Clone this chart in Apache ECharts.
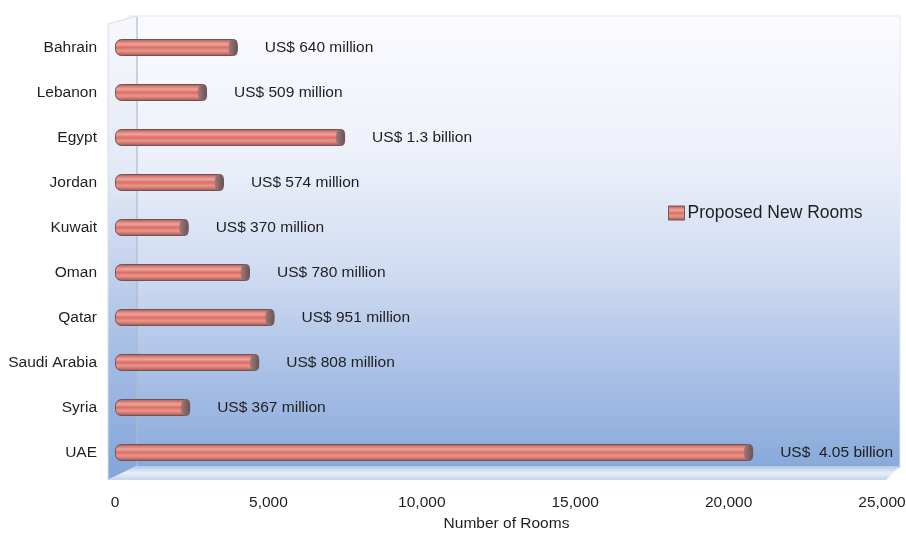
<!DOCTYPE html>
<html>
<head>
<meta charset="utf-8">
<script src="https://cdn.jsdelivr.net/npm/echarts@6/dist/echarts.min.js"></script>
<style>
  html, body { margin: 0; padding: 0; background: #ffffff; }
  #chart { width: 906px; height: 533px; }
</style>
</head>
<body>
<div id="chart"></div>
<script>
// Proposed new hotel rooms by country, with the investment behind each
const countries = ['Bahrain', 'Lebanon', 'Egypt', 'Jordan', 'Kuwait', 'Oman', 'Qatar', 'Saudi Arabia', 'Syria', 'UAE'];
const proposedRooms = [4000, 3000, 7500, 3550, 2400, 4400, 5200, 4700, 2450, 20800];
const investment = [
  'US$ 640 million', 'US$ 509 million', 'US$ 1.3 billion', 'US$ 574 million', 'US$ 370 million',
  'US$ 780 million', 'US$ 951 million', 'US$ 808 million', 'US$ 367 million', 'US$  4.05 billion'
];
const roomAxis = { min: 0, max: 25000, step: 5000 };

const FONT = '"Liberation Sans", Arial, Helvetica, sans-serif';
const TEXT = '#1e1e1e';

// cylinder shading across the bar thickness
const barFill = new echarts.graphic.LinearGradient(0, 0, 0, 1, [
  { offset: 0.00, color: '#8a5a58' },
  { offset: 0.12, color: '#d4736b' },
  { offset: 0.30, color: '#eea59c' },
  { offset: 0.50, color: '#dc6f67' },
  { offset: 0.70, color: '#e8978e' },
  { offset: 0.88, color: '#c86a62' },
  { offset: 1.00, color: '#7e5856' }
]);
const capFill = new echarts.graphic.LinearGradient(0, 0, 1, 0, [
  { offset: 0, color: '#a27a76' },
  { offset: 1, color: '#665457' }
]);

const chart = echarts.init(document.getElementById('chart'), null, { renderer: 'canvas' });

chart.setOption({
  animation: false,
  backgroundColor: '#ffffff',
  textStyle: { fontFamily: FONT },
  graphic: [
    // back wall
    {
      type: 'rect', z: -10, silent: true,
      shape: { x: 128, y: 16, width: 772, height: 452 },
      style: {
        fill: new echarts.graphic.LinearGradient(0, 0, 0, 1, [
          { offset: 0.00, color: '#fbfbff' },
          { offset: 0.30, color: '#eef1fa' },
          { offset: 0.55, color: '#d2ddf2' },
          { offset: 0.78, color: '#abc1e6' },
          { offset: 1.00, color: '#88a9da' }
        ]),
        stroke: '#e4e7ef', lineWidth: 1
      }
    },
    // left side wall
    {
      type: 'polygon', z: -9, silent: true,
      shape: { points: [[108, 24], [137, 16], [137, 466], [108, 480]] },
      style: {
        fill: new echarts.graphic.LinearGradient(0, 0, 0, 1, [
          { offset: 0.00, color: '#f7f8fc' },
          { offset: 0.35, color: '#e2e8f5' },
          { offset: 0.72, color: '#a6bde5' },
          { offset: 1.00, color: '#82a5d8' }
        ]),
        stroke: '#d8dde8', lineWidth: 1
      }
    },
    // floor
    {
      type: 'polygon', z: -8, silent: true,
      shape: { points: [[108, 480], [137, 466], [900, 466], [886, 480]] },
      style: {
        fill: new echarts.graphic.LinearGradient(0, 0, 0, 1, [
          { offset: 0.0, color: '#b3c6e7' },
          { offset: 0.5, color: '#e8eff9' },
          { offset: 1.0, color: '#c5d3eb' }
        ])
      }
    },
    // wall edge
    {
      type: 'line', z: -7, silent: true,
      shape: { x1: 137, y1: 17, x2: 137, y2: 466 },
      style: { stroke: 'rgba(90,100,130,0.35)', lineWidth: 1 }
    }
  ],
  legend: {
    left: 663,
    top: 199,
    itemWidth: 16,
    itemHeight: 14,
    itemGap: 6,
    icon: 'rect',
    data: ['Proposed New Rooms'],
    textStyle: { fontSize: 17.5, color: TEXT, fontFamily: FONT, padding: [0, 0, 0, -2] },
    itemStyle: { borderColor: '#6e5a5c', borderWidth: 1 }
  },
  grid: { left: 115, right: 24, top: 25, bottom: 58, containLabel: false, outerBoundsMode: 'none' },
  xAxis: {
    type: 'value',
    min: roomAxis.min,
    max: roomAxis.max,
    interval: roomAxis.step,
    name: 'Number of Rooms',
    nameLocation: 'middle',
    nameGap: 41,
    nameTextStyle: { fontSize: 15.5, color: TEXT, fontFamily: FONT, padding: [0, 0, 0, 16] },
    axisLine: { show: false },
    axisTick: { show: false },
    splitLine: { show: false },
    axisLabel: {
      margin: 20,
      fontSize: 15.5,
      color: TEXT,
      fontFamily: FONT,
      formatter: v => v.toLocaleString('en-US')
    }
  },
  yAxis: {
    type: 'category',
    data: countries,
    inverse: true,
    axisLine: { show: false },
    axisTick: { show: false },
    splitLine: { show: false },
    axisLabel: { margin: 18, fontSize: 15.5, color: TEXT, fontFamily: FONT }
  },
  series: [
    {
      name: 'Proposed New Rooms',
      type: 'bar',
      data: proposedRooms,
      barWidth: 17,
      itemStyle: {
        color: barFill,
        borderColor: '#6a5558',
        borderWidth: 1,
        borderRadius: [6, 4, 4, 6]
      },
      label: {
        show: true,
        position: 'right',
        distance: 27,
        fontSize: 15.5,
        color: TEXT,
        fontFamily: FONT,
        formatter: p => investment[p.dataIndex]
      },
      z: 3
    },
    {
      name: 'cap',
      type: 'pictorialBar',
      data: proposedRooms,
      symbol: 'circle',
      symbolSize: [9, 17],
      symbolPosition: 'end',
      barWidth: 17,
      itemStyle: { color: capFill, borderColor: '#5c4c52', borderWidth: 0.8 },
      silent: true,
      z: 4
    }
  ]
});
</script>
</body>
</html>
